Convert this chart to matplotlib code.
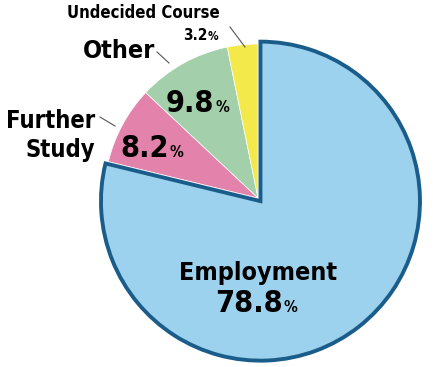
import matplotlib
matplotlib.use("Agg")
import matplotlib.pyplot as plt

# data
labels = ["Employment", "Further Study", "Other", "Undecided Course"]
values = [78.8, 8.2, 9.8, 3.2]
colors = ["#9dd2ee", "#e383ac", "#a3cfab", "#f3e94a"]

W, H = 433, 367


def py(y):
    # pixel row (from top) -> data y
    return H - y


fig = plt.figure(figsize=(W / 100, H / 100), dpi=100)
ax = fig.add_axes([0, 0, 1, 1])
ax.set_xlim(0, W)
ax.set_ylim(0, H)
ax.set_aspect("equal")
ax.axis("off")

# note: pie's explode offset is in data units here (not scaled by radius)
wedges, _ = ax.pie(
    values,
    colors=colors,
    startangle=90,
    counterclock=False,
    center=(258, py(198)),
    radius=154,
    explode=[4, 0, 0, 0],
    wedgeprops=dict(edgecolor="white", linewidth=0.5),
)
ax.set_xlim(0, W)
ax.set_ylim(0, H)
# the employment slice is pulled out and drawn a bit bigger, with a dark rim
wedges[0].set_radius(159.5)
wedges[0].set_edgecolor("#1b5d8a")
wedges[0].set_linewidth(2.8)
wedges[0].set_zorder(3)

font = dict(family="DejaVu Sans", fontweight="bold", fontstretch="condensed", color="black")

# leader lines
for (x0, y0), (x1, y1) in [((230, 27), (245, 47)), ((157, 52), (169, 63)), ((100, 117), (115, 126))]:
    ax.plot([x0, x1], [py(y0), py(y1)], color="#555555", lw=0.8)

# outside labels
ax.text(220, py(18), "Undecided Course", ha="right", va="baseline", fontsize=12, **font)
ax.text(208, py(40), "3.2", ha="right", va="baseline", fontsize=11, **font)
ax.text(208, py(40), "%", ha="left", va="baseline", fontsize=8.5, **font)
ax.text(119, py(58), "Other", ha="center", va="baseline", fontsize=18, **font)
ax.text(95, py(128), "Further", ha="right", va="baseline", fontsize=17, **font)
ax.text(95, py(157), "Study", ha="right", va="baseline", fontsize=17, **font)


def pct(x, y, num, size, psize):
    ax.text(x, py(y), num, ha="right", va="baseline", fontsize=size, zorder=5, **font)
    ax.text(x + 1, py(y), "%", ha="left", va="baseline", fontsize=psize, zorder=5, **font)


pct(214, 112, "9.8", 22, 11)
pct(169, 157, "8.2", 22, 11)
ax.text(258, py(280), "Employment", ha="center", va="baseline", fontsize=18, zorder=5, **font)
pct(283, 312, "78.8", 22, 11)

fig.savefig("out.png", dpi=100)
